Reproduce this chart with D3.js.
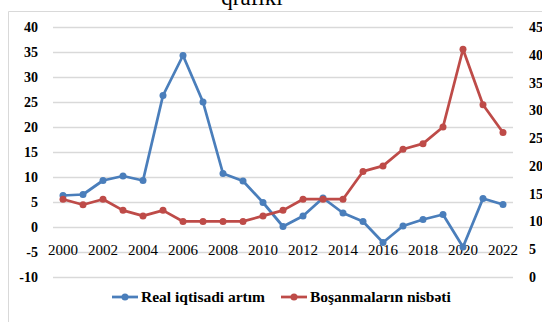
<!DOCTYPE html>
<html>
<head>
<meta charset="utf-8">
<script src="https://cdn.jsdelivr.net/npm/d3@7/dist/d3.min.js"></script>
<style>
  html, body { margin: 0; padding: 0; background: #fff; }
  svg { display: block; }
</style>
</head>
<body>
<svg id="chart" width="542" height="322"></svg>
<script>
// Years on the category axis
const years = [2000, 2001, 2002, 2003, 2004, 2005, 2006, 2007, 2008, 2009, 2010, 2011,
               2012, 2013, 2014, 2015, 2016, 2017, 2018, 2019, 2020, 2021, 2022];
// Real economic growth, % (left axis)
const realGrowth = [6.3, 6.5, 9.3, 10.2, 9.3, 26.3, 34.3, 25.0, 10.7, 9.2, 4.9, 0.1,
                    2.2, 5.8, 2.8, 1.1, -3.1, 0.2, 1.5, 2.5, -4.0, 5.7, 4.5];
// Divorce ratio (right axis)
const divorceRatio = [14, 13, 14, 12, 11, 12, 10, 10, 10, 10, 11, 12,
                      14, 14, 14, 19, 20, 23, 24, 27, 41, 31, 26];
const leftTicks = [-10, -5, 0, 5, 10, 15, 20, 25, 30, 35, 40];
const rightTicks = [0, 5, 10, 15, 20, 25, 30, 35, 40, 45];
const yearLabels = years.filter(y => y % 2 === 0);
const seriesNames = ["Real iqtisadi artım", "Boşanmaların nisbəti"];
const colors = ["#4a7ebb", "#be4b48"];

const svg = d3.select("#chart");
const serif = "'Liberation Serif', 'Times New Roman', serif";
const plain = d => String(d);

const plot = { left: 53, right: 513, top: 27, bottom: 277 };

const x = d3.scaleBand().domain(years).range([plot.left, plot.right]);
const xc = d => x(d) + x.bandwidth() / 2;
const yL = d3.scaleLinear().domain([-10, 40]).range([plot.bottom, plot.top]);
const yR = d3.scaleLinear().domain([0, 45]).range([plot.bottom, plot.top]);

// Chart frame
svg.append("path")
  .attr("d", "M8.5,330 V11.5 H560")
  .attr("fill", "none").attr("stroke", "#d9d9d9").attr("stroke-width", 1);

// Title (second line of a wrapped title)
svg.append("text")
  .attr("x", 252).attr("y", 5)
  .attr("text-anchor", "middle")
  .attr("font-family", serif).attr("font-size", 23)
  .attr("fill", "#000")
  .text("qrafiki");

// Horizontal gridlines
svg.append("g").selectAll("line").data(leftTicks).join("line")
  .attr("x1", plot.left).attr("x2", plot.right)
  .attr("y1", d => Math.round(yL(d)) + 0.5).attr("y2", d => Math.round(yL(d)) + 0.5)
  .attr("stroke", "#d9d9d9").attr("stroke-width", 1.5);

// Left axis
const leftAxis = svg.append("g")
  .attr("transform", `translate(${plot.left - 15},0)`)
  .call(d3.axisLeft(yL).tickValues(leftTicks).tickFormat(plain).tickSize(0).tickPadding(0));
leftAxis.select(".domain").remove();
leftAxis.selectAll("text")
  .attr("font-family", serif).attr("font-size", 14).attr("font-weight", "bold")
  .attr("fill", "#000");

// Right axis
const rightAxis = svg.append("g")
  .attr("transform", `translate(${plot.right + 16},0)`)
  .call(d3.axisRight(yR).tickValues(rightTicks).tickFormat(plain).tickSize(0).tickPadding(0));
rightAxis.select(".domain").remove();
rightAxis.selectAll("text")
  .attr("font-family", serif).attr("font-size", 14).attr("font-weight", "bold")
  .attr("fill", "#000");

// Category labels sit just below the zero line
const xAxis = svg.append("g")
  .attr("transform", `translate(0,${yL(0)})`)
  .call(d3.axisBottom(x).tickValues(yearLabels).tickFormat(plain).tickSize(0).tickPadding(17));
xAxis.select(".domain").remove();
xAxis.selectAll("text")
  .attr("font-family", serif).attr("font-size", 15)
  .attr("fill", "#000");

// Series
const seriesData = [
  { values: realGrowth, y: yL, color: colors[0] },
  { values: divorceRatio, y: yR, color: colors[1] }
];
seriesData.forEach(s => {
  const pts = years.map((yr, i) => [xc(yr), s.y(s.values[i])]);
  svg.append("path")
    .attr("d", d3.line()(pts))
    .attr("fill", "none").attr("stroke", s.color)
    .attr("stroke-width", 2.75).attr("stroke-linejoin", "round");
  svg.append("g").selectAll("circle").data(pts).join("circle")
    .attr("cx", d => d[0]).attr("cy", d => d[1]).attr("r", 3.5)
    .attr("fill", s.color);
});

// Legend
const legendItems = [
  { name: seriesNames[0], color: colors[0], x: 112 },
  { name: seriesNames[1], color: colors[1], x: 281 }
];
const lg = svg.append("g").attr("transform", "translate(0,297)");
legendItems.forEach(it => {
  lg.append("line").attr("x1", it.x).attr("x2", it.x + 26).attr("y1", 0).attr("y2", 0)
    .attr("stroke", it.color).attr("stroke-width", 2.75);
  lg.append("circle").attr("cx", it.x + 13).attr("cy", 0).attr("r", 3.5).attr("fill", it.color);
  lg.append("text").attr("x", it.x + 29).attr("y", 5)
    .attr("font-family", serif).attr("font-size", 15.5).attr("font-weight", "bold")
    .attr("fill", "#000").text(it.name);
});
</script>
</body>
</html>
